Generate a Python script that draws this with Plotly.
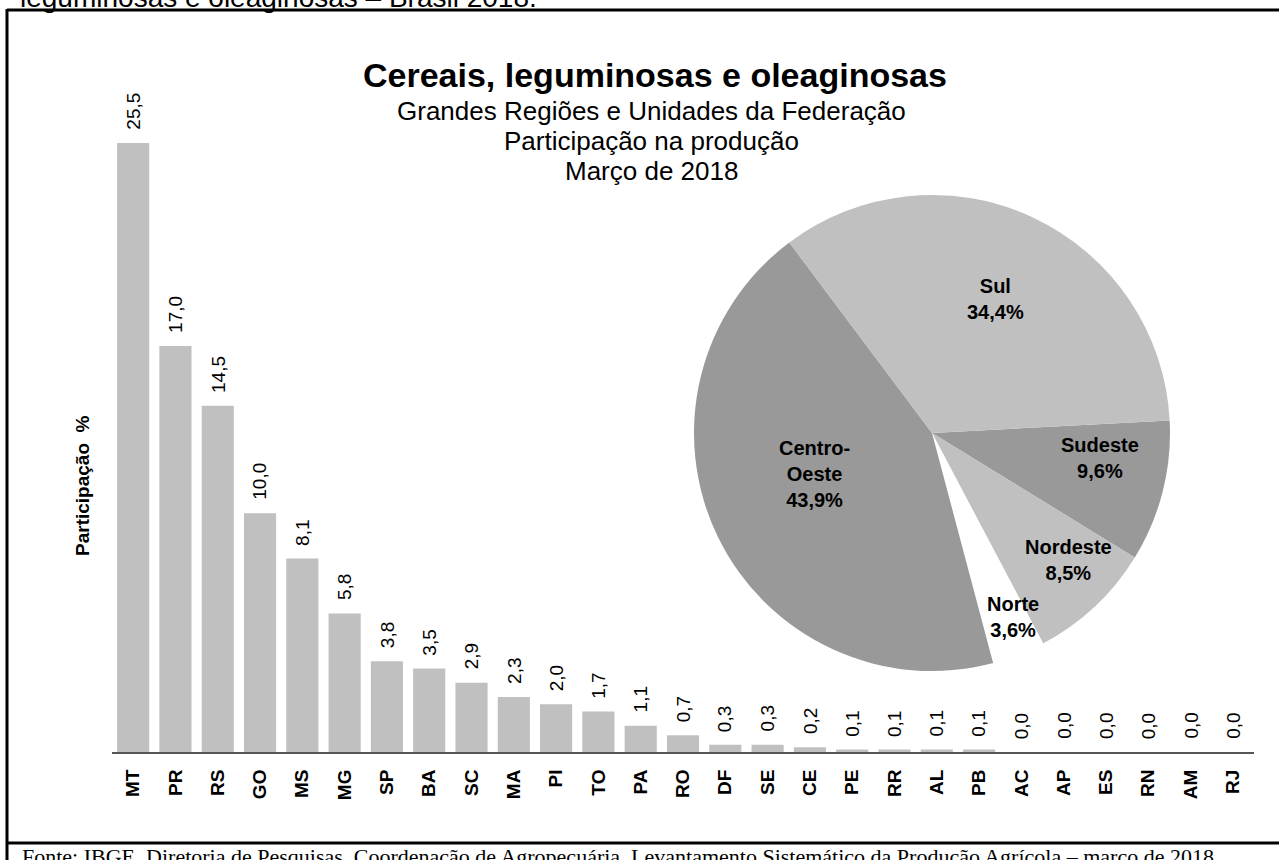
import plotly.graph_objects as go

# ---------------- data ----------------
ufs = ["MT", "PR", "RS", "GO", "MS", "MG", "SP", "BA", "SC", "MA", "PI", "TO", "PA", "RO",
       "DF", "SE", "CE", "PE", "RR", "AL", "PB", "AC", "AP", "ES", "RN", "AM", "RJ"]
participacao = [25.5, 17.0, 14.5, 10.0, 8.1, 5.8, 3.8, 3.5, 2.9, 2.3, 2.0, 1.7, 1.1, 0.7,
                0.3, 0.3, 0.2, 0.1, 0.1, 0.1, 0.1, 0.0, 0.0, 0.0, 0.0, 0.0, 0.0]

regioes = ["Sudeste", "Nordeste", "Norte", "Centro-Oeste", "Sul"]
regioes_pct = [9.6, 8.5, 3.6, 43.9, 34.4]
regioes_cores = ["#999999", "#c0c0c0", "#ffffff", "#999999", "#c0c0c0"]

title = "Cereais, leguminosas e oleaginosas"
subtitles = ["Grandes Regiões e Unidades da Federação", "Participação na produção", "Março de 2018"]
top_text = "leguminosas e oleaginosas – Brasil 2018."
footer = ("Fonte: IBGE, Diretoria de Pesquisas, Coordenação de Agropecuária, "
          "Levantamento Sistemático da Produção Agrícola – março de 2018.")

# ---------------- layout helpers ----------------
W, H = 1279, 860
ML, MR, MT_, MB = 112, 25, 60, 108
PW, PH = W - ML - MR, H - MT_ - MB


def px(x):
    return (x - ML) / PW


def py(y):
    return (H - MB - y) / PH


SANS = "Liberation Sans, Arial, sans-serif"
SERIF = "Liberation Serif, Times New Roman, serif"


def fmt(v):
    return f"{v:.1f}".replace(".", ",")


fig = go.Figure()

fig.add_trace(go.Bar(
    x=ufs, y=participacao,
    marker=dict(color="#c0c0c0", line=dict(width=0)),
    showlegend=False, hoverinfo="x+y",
))

# pie
cx, cy, r = 932, 433, 238
fig.add_trace(go.Pie(
    labels=regioes, values=regioes_pct,
    marker=dict(colors=regioes_cores, line=dict(width=0)),
    sort=False, direction="clockwise", rotation=87,
    textinfo="none", showlegend=False,
    domain=dict(x=[px(cx - r), px(cx + r)], y=[py(cy + r), py(cy - r)]),
))

annotations = []

# value labels over bars
for u, v in zip(ufs, participacao):
    annotations.append(dict(
        x=u, y=v, xref="x", yref="y", text=fmt(v), showarrow=False,
        textangle=-90, xanchor="center", yanchor="bottom", yshift=11,
        font=dict(family=SANS, size=19, color="#000000"),
    ))

# pie labels
pie_label_pos = [(1100, 458), (1068, 560), (1013, 617), (814, 474), (995, 299)]
for name, pct, (lx, ly) in zip(regioes, regioes_pct, pie_label_pos):
    nm = name.replace("-", "-<br>")
    annotations.append(dict(
        x=px(lx), y=py(ly), xref="paper", yref="paper",
        text=f"{nm}<br>{fmt(pct)}%", showarrow=False,
        xanchor="center", yanchor="middle",
        font=dict(family=SANS, size=20, color="#000000", weight="bold"),
    ))

# titles
annotations.append(dict(x=px(655), y=py(75), xref="paper", yref="paper", text=title,
                        showarrow=False, xanchor="center", yanchor="middle",
                        font=dict(family=SANS, size=34, color="#000000", weight="bold")))
for i, s in enumerate(subtitles):
    annotations.append(dict(x=px(651), y=py(111 + 30 * i), xref="paper", yref="paper", text=s,
                            showarrow=False, xanchor="center", yanchor="middle",
                            font=dict(family=SANS, size=26, color="#000000")))

# y title
annotations.append(dict(x=px(83), y=py(486), xref="paper", yref="paper",
                        text="Participação  %", showarrow=False, textangle=-90,
                        xanchor="center", yanchor="middle",
                        font=dict(family=SANS, size=19, color="#000000", weight="bold")))

# cut top text
annotations.append(dict(x=px(18), y=py(-2), xref="paper", yref="paper", text=top_text,
                        showarrow=False, xanchor="left", yanchor="middle",
                        font=dict(family=SANS, size=28, color="#000000")))

# footer
annotations.append(dict(x=px(20), y=py(856), xref="paper", yref="paper", text=footer,
                        showarrow=False, xanchor="left", yanchor="middle",
                        font=dict(family=SERIF, size=22, color="#000000")))

shapes = [
    dict(type="line", xref="paper", yref="paper", x0=px(7), x1=px(1290), y0=py(10), y1=py(10),
         line=dict(color="#000000", width=3)),
    dict(type="line", xref="paper", yref="paper", x0=px(7), x1=px(7), y0=py(9), y1=py(870),
         line=dict(color="#000000", width=3)),
    dict(type="line", xref="paper", yref="paper", x0=px(7), x1=px(1290), y0=py(843), y1=py(843),
         line=dict(color="#000000", width=3)),
]

fig.update_layout(
    width=W, height=H,
    margin=dict(l=ML, r=MR, t=MT_, b=MB, pad=0),
    paper_bgcolor="#ffffff", plot_bgcolor="#ffffff",
    bargap=0.24,
    xaxis=dict(
        type="category", showline=True, linecolor="#555555", linewidth=2,
        ticks="", tickangle=-90, showgrid=False, zeroline=False,
        tickfont=dict(family=SANS, size=19, color="#000000", weight="bold"),
        ticklabelstandoff=8, fixedrange=True,
    ),
    yaxis=dict(range=[0, 25.5 / (752 - 143) * PH], visible=False, showgrid=False,
               zeroline=False, fixedrange=True),
    annotations=annotations,
    shapes=shapes,
    font=dict(family=SANS),
)

fig.write_html(
    "out.html",
    config={"displayModeBar": False},
    post_script="document.body.style.margin='0';document.body.style.overflow='hidden';",
)
